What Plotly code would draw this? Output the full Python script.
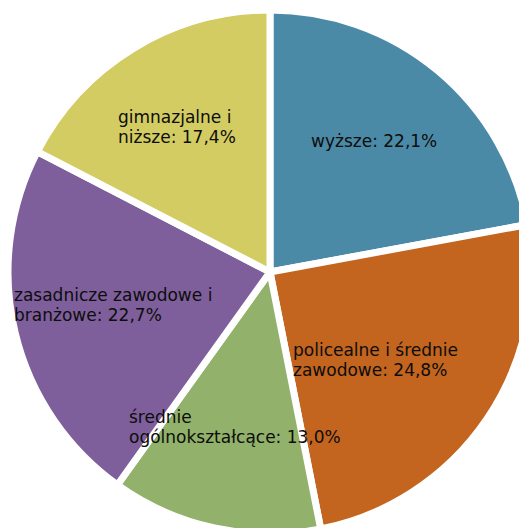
import plotly.graph_objects as go

categories = [
    "wyższe",
    "policealne i średnie zawodowe",
    "średnie ogólnokształcące",
    "zasadnicze zawodowe i branżowe",
    "gimnazjalne i niższe",
]
values = [22.1, 24.8, 13.0, 22.7, 17.4]
# label text with line breaks as in the reference
label_lines = [
    ["wyższe"],
    ["policealne i średnie", "zawodowe"],
    ["średnie", "ogólnokształcące"],
    ["zasadnicze zawodowe i", "branżowe"],
    ["gimnazjalne i", "niższe"],
]
colors = ["#4B8AA6", "#C3641F", "#92B16A", "#7E5F9B", "#D3CC63"]

W, H = 527, 528
OFF = 8  # page body offset of the figure
LINE_GAP = 20
# label anchor positions in screen pixels (left edge, vertical centre of last line)
label_pos = [
    (310, 141),
    (292, 370),
    (128, 437),
    (13, 315),
    (117, 137),
]

fig = go.Figure(
    go.Pie(
        labels=categories,
        values=values,
        sort=False,
        direction="clockwise",
        rotation=0,
        marker=dict(colors=colors, line=dict(color="white", width=7)),
        textinfo="none",
        hoverinfo="label+percent",
        showlegend=False,
        domain=dict(x=[0, 524 / W], y=[1 - 526 / H, 1 - 2 / H]),
    )
)

def fmt(v):
    return f"{v:.1f}".replace(".", ",") + "%"

for lines, v, (px, py) in zip(label_lines, values, label_pos):
    text_lines = lines[:-1] + [lines[-1] + ": " + fmt(v)]
    n = len(text_lines)
    for i, t in enumerate(text_lines):
        yc = py - (n - 1 - i) * LINE_GAP
        fig.add_annotation(
            x=(px - OFF) / W,
            y=1 - (yc - OFF) / H,
            xref="paper",
            yref="paper",
            xanchor="left",
            yanchor="middle",
            align="left",
            showarrow=False,
            text=t,
            font=dict(family="DejaVu Sans", size=17, color="#0d0d0d"),
            borderpad=0,
        )

fig.update_layout(
    width=W,
    height=H,
    margin=dict(l=0, r=0, t=0, b=0),
    paper_bgcolor="white",
    plot_bgcolor="white",
)

fig.write_html("out.html")
